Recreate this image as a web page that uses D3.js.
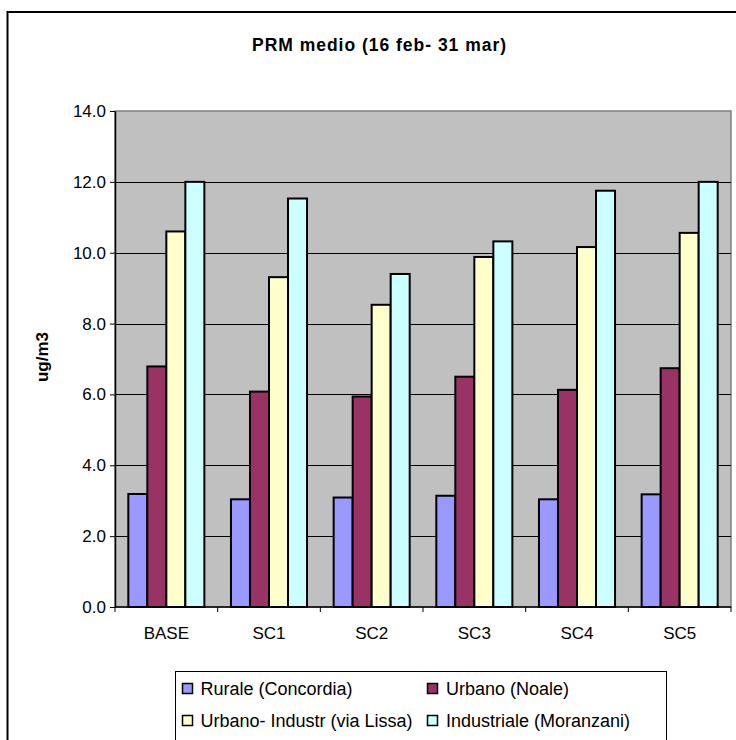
<!DOCTYPE html>
<html>
<head>
<meta charset="utf-8">
<script src="https://cdn.jsdelivr.net/npm/d3@7"></script>
<style>
  html, body { margin: 0; padding: 0; background: #fff; }
  svg { display: block; font-family: "Liberation Sans", Arial, sans-serif; }
</style>
</head>
<body>
<svg id="chart" width="736" height="740"></svg>
<script>
// Scenarios on the x axis
const categories = ["BASE", "SC1", "SC2", "SC3", "SC4", "SC5"];

// Monitoring stations (series)
const seriesNames = [
  "Rurale (Concordia)",
  "Urbano (Noale)",
  "Urbano- Industr (via Lissa)",
  "Industriale (Moranzani)"
];
const seriesColors = ["#9999FF", "#993366", "#FFFFCC", "#CCFFFF"];

// Mean PRM concentrations, ug/m3, one array per station
const rurale      = [3.19, 3.04, 3.09, 3.14, 3.04, 3.18];
const urbano      = [6.79, 6.08, 5.94, 6.50, 6.13, 6.74];
const urbIndustr  = [10.60, 9.31, 8.53, 9.88, 10.16, 10.56];
const industriale = [12.00, 11.53, 9.40, 10.32, 11.75, 12.00];

const yTicks = [0, 2, 4, 6, 8, 10, 12, 14];

const seriesValues = [rurale, urbano, urbIndustr, industriale];
const rows = categories.map((c, i) => ({
  cat: c,
  vals: seriesNames.map((s, j) => ({ key: s, value: seriesValues[j][i], idx: j }))
}));

const svg = d3.select("#chart");

// Outer chart frame
svg.append("rect")
  .attr("x", 7.5).attr("y", 12)
  .attr("width", 760).attr("height", 760)
  .attr("fill", "#fff").attr("stroke", "#000").attr("stroke-width", 2);

// Title
svg.append("text")
  .attr("x", 379).attr("y", 51)
  .attr("text-anchor", "middle")
  .attr("font-size", 17.5).attr("font-weight", "bold")
  .attr("textLength", 254).attr("lengthAdjust", "spacing")
  .text("PRM medio (16 feb- 31 mar)");

const plot = { left: 115, right: 731, top: 111, bottom: 607 };

const x0 = d3.scaleBand().domain(categories)
  .range([plot.left, plot.right]).padding(0);
const x1 = d3.scaleBand().domain(seriesNames)
  .range([0, x0.bandwidth()]).paddingInner(0).paddingOuter(0.7);
const y = d3.scaleLinear().domain([0, 14]).range([plot.bottom, plot.top]);

// Plot area background
svg.append("rect")
  .attr("x", plot.left).attr("y", plot.top)
  .attr("width", plot.right - plot.left).attr("height", plot.bottom - plot.top)
  .attr("fill", "#C0C0C0").attr("stroke", "#808080").attr("stroke-width", 1.5);

// Horizontal gridlines
svg.append("g")
  .selectAll("line")
  .data(yTicks.filter(t => t > 0 && t < 14))
  .join("line")
  .attr("x1", plot.left).attr("x2", plot.right)
  .attr("y1", d => Math.round(y(d)) + 0.5).attr("y2", d => Math.round(y(d)) + 0.5)
  .attr("stroke", "#000").attr("stroke-width", 1);

// Bars
const groups = svg.append("g")
  .selectAll("g")
  .data(rows)
  .join("g")
  .attr("transform", d => `translate(${x0(d.cat)},0)`);

groups.selectAll("rect")
  .data(d => d.vals)
  .join("rect")
  .attr("x", d => x1(d.key))
  .attr("y", d => y(d.value))
  .attr("width", x1.bandwidth())
  .attr("height", d => y(0) - y(d.value))
  .attr("fill", d => seriesColors[d.idx])
  .attr("stroke", "#000").attr("stroke-width", 2);

// Y axis
const yAxis = svg.append("g")
  .attr("transform", `translate(${plot.left},0)`)
  .call(d3.axisLeft(y).tickValues(yTicks).tickFormat(d3.format(".1f")).tickSize(5).tickSizeOuter(0));
yAxis.select(".domain").attr("stroke", "#000").attr("stroke-width", 1.5);
yAxis.selectAll(".tick line").attr("stroke", "#000");
yAxis.selectAll(".tick text")
  .attr("font-size", 17).attr("font-family", "Liberation Sans, Arial, sans-serif")
  .attr("fill", "#000").attr("x", -9);

// X axis: ticks at category boundaries, labels centred in each band
const xAxis = svg.append("g")
  .attr("transform", `translate(0,${plot.bottom})`);
xAxis.append("line")
  .attr("x1", plot.left).attr("x2", plot.right)
  .attr("stroke", "#000").attr("stroke-width", 1.5);
xAxis.selectAll("line.tk")
  .data(categories.concat(["_end"]))
  .join("line")
  .attr("class", "tk")
  .attr("x1", (d, i) => i < categories.length ? x0(d) : plot.right)
  .attr("x2", (d, i) => i < categories.length ? x0(d) : plot.right)
  .attr("y1", 0).attr("y2", 5)
  .attr("stroke", "#000");
xAxis.selectAll("text")
  .data(categories)
  .join("text")
  .attr("x", d => x0(d) + x0.bandwidth() / 2)
  .attr("y", 32)
  .attr("text-anchor", "middle")
  .attr("font-size", 17)
  .text(d => d);

// Y axis title
svg.append("text")
  .attr("transform", "translate(48,357) rotate(-90)")
  .attr("text-anchor", "middle")
  .attr("font-size", 17).attr("font-weight", "bold")
  .text("ug/m3");

// Legend
const legend = svg.append("g");
legend.append("rect")
  .attr("x", 175.5).attr("y", 671.5)
  .attr("width", 491).attr("height", 90)
  .attr("fill", "#fff").attr("stroke", "#000").attr("stroke-width", 1);

const legendPos = [
  { sx: 182, tx: 200.5, by: 695 },
  { sx: 427, tx: 446, by: 695 },
  { sx: 182, tx: 200.5, by: 727 },
  { sx: 427, tx: 446, by: 727 }
];
const items = legend.selectAll("g.item")
  .data(seriesNames)
  .join("g")
  .attr("class", "item");
items.append("rect")
  .attr("x", (d, i) => legendPos[i].sx + 0.5)
  .attr("y", (d, i) => legendPos[i].by - 11.5)
  .attr("width", 10).attr("height", 10)
  .attr("fill", (d, i) => seriesColors[i])
  .attr("stroke", "#000").attr("stroke-width", 1.5);
items.append("text")
  .attr("x", (d, i) => legendPos[i].tx)
  .attr("y", (d, i) => legendPos[i].by)
  .attr("font-size", 18)
  .text(d => d);
</script>
</body>
</html>
